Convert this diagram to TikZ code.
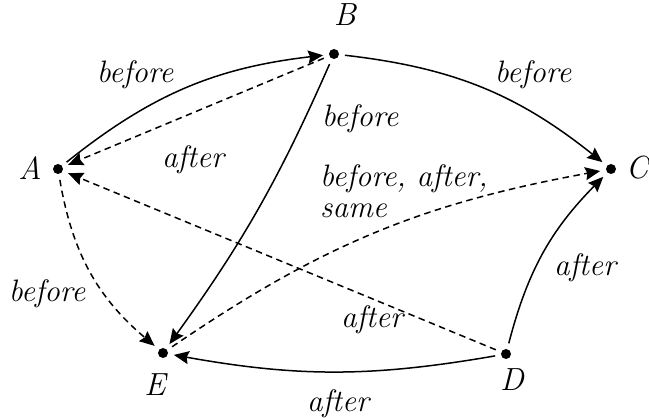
\documentclass[tikz,border=0pt]{standalone}
\usepackage{fontspec}
\usetikzlibrary{arrows.meta}
\begin{document}
\begin{tikzpicture}[x=1pt,y=1pt,
  dot/.style={circle,fill=black,minimum size=10pt,inner sep=0pt,outer sep=6pt},
  lbl/.style={font=\rmfamily\itshape\fontsize{31}{34}\selectfont,inner sep=0pt},
  vname/.style={font=\rmfamily\itshape\fontsize{32}{34}\selectfont,inner sep=0pt},
  edge/.style={line width=1.5pt,-{Stealth[length=15pt,width=13pt,inset=2pt]}},
  dedge/.style={edge,dash pattern=on 6.5pt off 4.5pt}]
\useasboundingbox (0,0) rectangle (649,420);
\node[dot] (A) at (58,251) {};
\node[dot] (B) at (334,366) {};
\node[dot] (C) at (611,251) {};
\node[dot] (D) at (506,66) {};
\node[dot] (E) at (163,67) {};
\node[vname] (nA) at (30,252) {A};
\node[vname] (nB) at (345,405) {B};
\node[vname] (nC) at (637,252) {C};
\node[vname] (nD) at (512,40) {D};
\node[vname] (nE) at (155,35) {E};
\draw[edge] (A) to[bend left=16] (B);
\draw[dedge] (B) to (A);
\draw[edge] (B) to[bend left=16] (C);
\draw[edge] (B) to[bend left=6] (E);
\draw[dedge] (D) to (A);
\draw[dedge] (E) to[bend left=12] (C);
\draw[dedge] (A) to[bend right=20] (E);
\draw[edge] (D) to[bend left=15] (C);
\draw[edge] (D) to[bend left=10] (E);
\node[lbl,anchor=base] (l1) at (135,337) {before};
\node[lbl,anchor=base] (l2) at (193,252) {after};
\node[lbl,anchor=base] (l3) at (533,337) {before};
\node[lbl,anchor=base] (l4) at (360,293) {before};
\node[lbl,anchor=base west] (l5) at (320,233) {before, after,};
\node[lbl,anchor=base west] (l6) at (320,202) {same};
\node[lbl,anchor=base] (l7) at (585,144) {after};
\node[lbl,anchor=base] (l8) at (372,92) {after};
\node[lbl,anchor=base] (l9) at (47,118) {before};
\node[lbl,anchor=base] (l10) at (338,8) {after};
\end{tikzpicture}
\end{document}
